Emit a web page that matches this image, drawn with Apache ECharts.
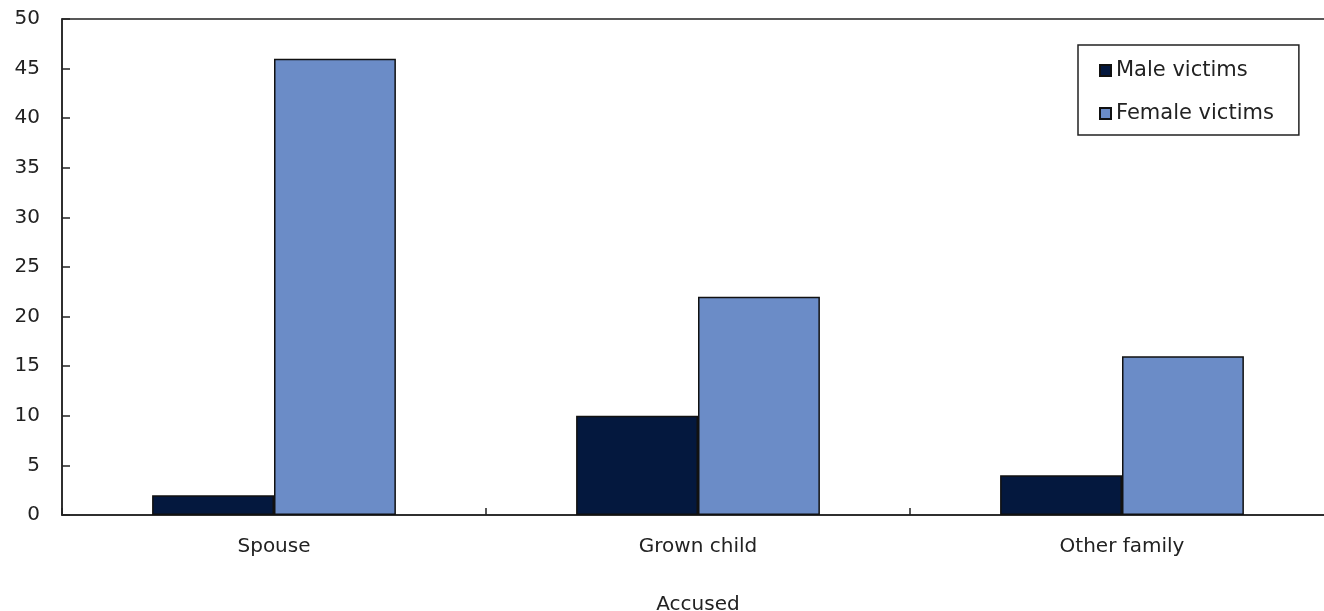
<!DOCTYPE html>
<html>
<head>
<meta charset="utf-8">
<script src="https://cdn.jsdelivr.net/npm/echarts@6/dist/echarts.min.js"></script>
<style>html,body{margin:0;padding:0;background:#fff}#c{width:1324px;height:611px}</style>
</head>
<body>
<div id="c"></div>
<script>
const categories = ['Spouse', 'Grown child', 'Other family'];
const maleVictims = [2, 10, 4];
const femaleVictims = [46, 22, 16];
const yTicks = { min: 0, max: 50, interval: 5 };

const font = 'DejaVu Sans, Verdana, sans-serif';
const chart = echarts.init(document.getElementById('c'));
chart.setOption({
  animation: false,
  backgroundColor: '#fff',
  grid: { left: 62, top: 19, right: -10, bottom: 96, show: true, borderColor: '#222', borderWidth: 1.5,
          containLabel: false, outerBoundsMode: 'none' },
  legend: {
    left: 1078, top: 45, orient: 'vertical',
    padding: [15, 25, 11, 21],
    borderColor: '#222', borderWidth: 1.5, backgroundColor: '#fff',
    itemWidth: 11, itemHeight: 11, itemGap: 22,
    icon: 'rect',
    textStyle: { fontFamily: font, fontSize: 21, color: '#222', lineHeight: 21, padding: [0,0,0,0] },
    data: ['Male victims', 'Female victims']
  },
  xAxis: {
    type: 'category', data: categories,
    name: 'Accused', nameLocation: 'middle', nameGap: 80,
    nameTextStyle: { fontFamily: font, fontSize: 20, color: '#222' },
    axisLine: { lineStyle: { color: '#222', width: 1.5 } },
    axisTick: { show: true, inside: true, length: 7, lineStyle: { color: '#222', width: 1.5 } },
    axisLabel: { fontFamily: font, fontSize: 20, color: '#222', margin: 22 }
  },
  yAxis: {
    type: 'value', min: yTicks.min, max: yTicks.max, interval: yTicks.interval,
    splitLine: { show: false },
    axisLine: { show: true, lineStyle: { color: '#222', width: 1.5 } },
    axisTick: { show: true, inside: true, length: 8, lineStyle: { color: '#222', width: 1.5 } },
    axisLabel: { fontFamily: font, fontSize: 20, color: '#222', margin: 22 }
  },
  series: [
    { name: 'Male victims', type: 'bar', data: maleVictims, barGap: '0%', barCategoryGap: '42.5%',
      itemStyle: { color: '#04183e', borderColor: '#111', borderWidth: 1.5 } },
    { name: 'Female victims', type: 'bar', data: femaleVictims, barGap: '0%', barCategoryGap: '42.5%',
      itemStyle: { color: '#6b8cc7', borderColor: '#111', borderWidth: 1.5 } }
  ]
});
</script>
</body>
</html>
